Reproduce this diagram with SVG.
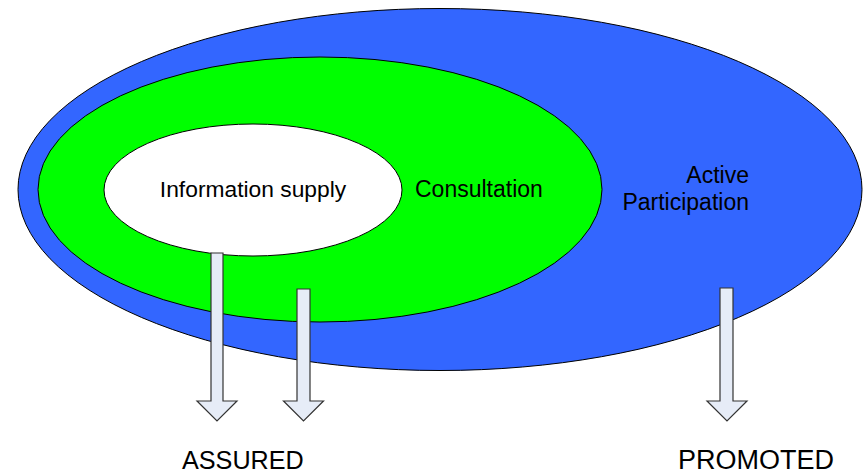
<svg xmlns="http://www.w3.org/2000/svg" width="864" height="474" viewBox="0 0 864 474">
<style>
.lbl{font-family:"Liberation Sans",Arial,sans-serif;fill:#000}
.arrow{fill:#E6ECF7;stroke:#333;stroke-width:1.2;stroke-linejoin:miter}
.ring{stroke:#000;stroke-width:1}
</style>
<rect width="864" height="474" fill="#fff"/>
<g id="active-participation">
<ellipse class="ring" cx="440" cy="189.5" rx="422" ry="181" fill="#3366FF"/>
<text class="lbl" x="749" y="183" font-size="23" text-anchor="end">Active</text>
<text class="lbl" x="749" y="210" font-size="23" text-anchor="end">Participation</text>
</g>
<g id="consultation">
<ellipse class="ring" cx="320" cy="189.5" rx="282" ry="132.5" fill="#00FF00"/>
<text class="lbl" x="415" y="197" font-size="23">Consultation</text>
</g>
<g id="information-supply">
<ellipse class="ring" cx="253" cy="190" rx="149" ry="66" fill="#fff"/>
<text class="lbl" x="253" y="197" font-size="22.8" text-anchor="middle">Information supply</text>
</g>
<g id="connectors">
<polygon class="arrow" points="211,253 223,253 223,401 237,401 217,421 197,401 211,401"/>
<polygon class="arrow" points="297,289 310,289 310,401 323.5,401 303.5,421 283.5,401 297,401"/>
<polygon class="arrow" points="720,288 733,288 733,401 747,401 727,421 707,401 720,401"/>
</g>
<g id="assured">
<text class="lbl" x="182" y="469" font-size="25.2">ASSURED</text>
</g>
<g id="promoted">
<text class="lbl" x="678" y="469" font-size="27">PROMOTED</text>
</g>
</svg>
